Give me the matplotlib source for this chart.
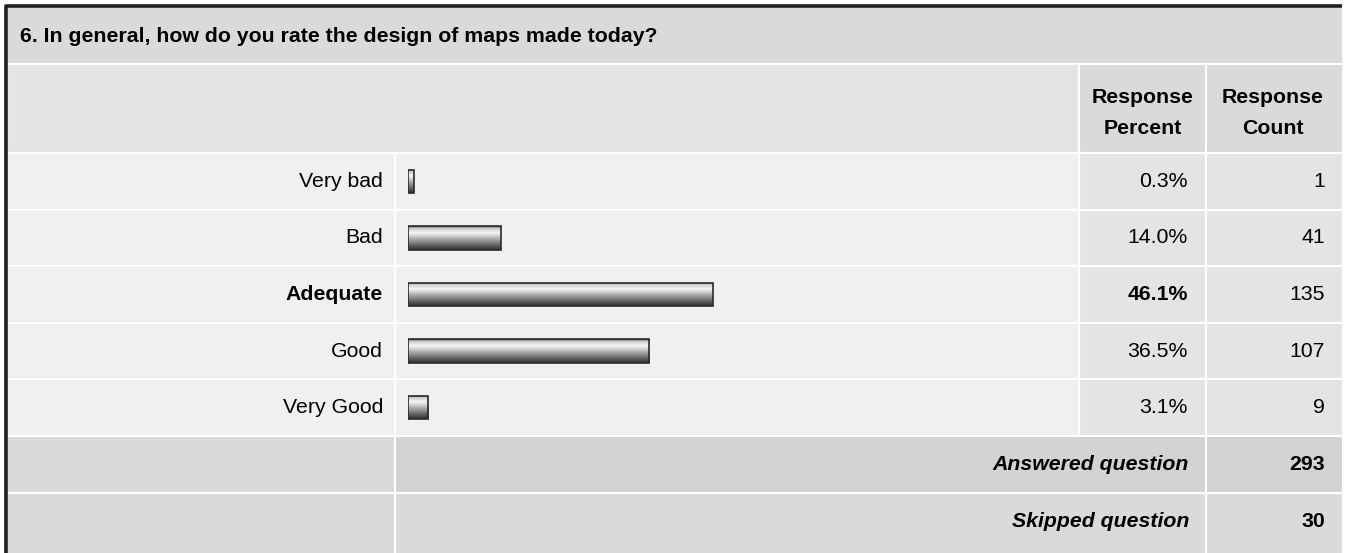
import numpy as np
import matplotlib.pyplot as plt
from matplotlib.patches import Rectangle
from matplotlib.colors import LinearSegmentedColormap

plt.rcParams['font.family'] = ['Liberation Sans', 'DejaVu Sans']

title = "6. In general, how do you rate the design of maps made today?"
answers = ["Very bad", "Bad", "Adequate", "Good", "Very Good"]
percents = [0.3, 14.0, 46.1, 36.5, 3.1]
counts = [1, 41, 135, 107, 9]
answered = 293
skipped = 30
top_answer = "Adequate"

W, H = 1346, 553
fig = plt.figure(figsize=(W / 100, H / 100), dpi=100)
ax = fig.add_axes([0, 0, 1, 1])
ax.set_xlim(0, W)
ax.set_ylim(H, 0)
ax.axis('off')

def cell(x0, y0, x1, y1, color):
    ax.add_patch(Rectangle((x0, y0), x1 - x0, y1 - y0, facecolor=color,
                           edgecolor='white', linewidth=1.5, zorder=1))

L, R = 7, 1343
c_lab, c_pct, c_cnt = 395, 1079, 1206
fs = 15.3

# title band and header
cell(L, 7, R, 64, '#d9dadc')
cell(L, 64, c_pct, 153, '#e3e4e6')
cell(c_pct, 64, c_cnt, 153, '#d9dadc')
cell(c_cnt, 64, R, 153, '#d9dadc')
ax.text(20, 37, title, fontsize=fs, fontweight='bold', va='center', ha='left')
ax.text((c_pct + c_cnt) / 2, 113, "Response\nPercent", fontsize=fs, fontweight='bold',
        ha='center', va='center', linespacing=1.75)
ax.text((c_cnt + R) / 2 - 2, 113, "Response\nCount", fontsize=fs, fontweight='bold',
        ha='center', va='center', linespacing=1.75)

# answer rows
row_top, row_h = 153, 56.6
for i, (name, p, c) in enumerate(zip(answers, percents, counts)):
    y0 = row_top + i * row_h
    y1 = y0 + row_h
    cell(L, y0, c_lab, y1, '#f0f0f0')
    cell(c_lab, y0, c_pct, y1, '#f0f0f0')
    cell(c_pct, y0, c_cnt, y1, '#e3e4e6')
    cell(c_cnt, y0, R, y1, '#e3e4e6')
    yc = (y0 + y1) / 2
    w = 'bold' if name == top_answer else 'normal'
    ax.text(383, yc, name, fontsize=fs, fontweight=w, ha='right', va='center')
    ax.text(1188, yc, f"{p:.1f}%", fontsize=fs, fontweight=w, ha='right', va='center')
    ax.text(1325, yc, str(c), fontsize=fs, ha='right', va='center')

# summary rows
y_ans = row_top + len(answers) * row_h
cell(L, y_ans, c_lab, y_ans + 57, '#d9dadc')
cell(c_lab, y_ans, c_cnt, y_ans + 57, '#d2d3d5')
cell(c_cnt, y_ans, R, y_ans + 57, '#d2d3d5')
cell(L, y_ans + 57, c_lab, H + 5, '#d9dadc')
cell(c_lab, y_ans + 57, c_cnt, H + 5, '#d9dadc')
cell(c_cnt, y_ans + 57, R, H + 5, '#d9dadc')
for k, (lab, v) in enumerate([("Answered question", answered), ("Skipped question", skipped)]):
    yc = y_ans + 28.5 + k * 57
    ax.text(1189, yc, lab, fontsize=fs, fontweight='bold', style='italic', ha='right', va='center')
    ax.text(1325, yc, str(v), fontsize=fs, fontweight='bold', ha='right', va='center')

# outer border (top and left)
ax.plot([5.5, 5.5, 1342], [H + 5, 5.5, 5.5], color='#1e1e1e', linewidth=2.6,
        solid_capstyle='butt', zorder=5)

# bar chart axes over the bar column
bx0, bx1 = 408, 408 + 661
bar_ax = fig.add_axes([bx0 / W, 1 - (row_top + len(answers) * row_h) / H,
                       (bx1 - bx0) / W, len(answers) * row_h / H])
bar_ax.set_xlim(0, 100)
bar_ax.set_ylim(len(answers) - 0.5, -0.5)
bar_ax.axis('off')
bar_ax.patch.set_alpha(0)

shade = LinearSegmentedColormap.from_list('shade', [
    (0.0, '#4a4a4a'), (0.08, '#c8c8c8'), (0.28, '#f6f6f6'),
    (0.55, '#a8a8a8'), (0.85, '#555555'), (1.0, '#2e2e2e')])
grad = np.linspace(0, 1, 64).reshape(-1, 1)
min_w = 0.9
bars = bar_ax.barh(range(len(answers)), [max(p, min_w) for p in percents], height=0.41,
                   facecolor='none', edgecolor='#2b2b2b', linewidth=1.2, zorder=3)
for b in bars:
    x, y, w, h = b.get_x(), b.get_y(), b.get_width(), b.get_height()
    im = bar_ax.imshow(grad, cmap=shade, aspect='auto', extent=(x, x + w, y + h, y),
                       zorder=2, interpolation='bilinear')
    im.set_clip_path(b)
bar_ax.set_xlim(0, 100)
bar_ax.set_ylim(len(answers) - 0.5, -0.5)

fig.savefig('out.png', dpi=100)
